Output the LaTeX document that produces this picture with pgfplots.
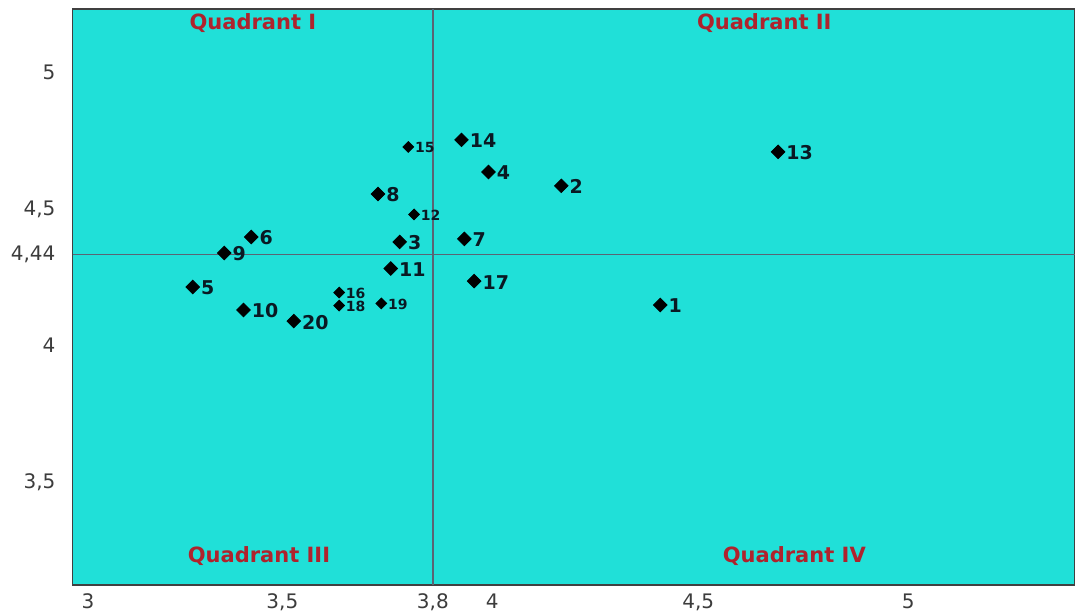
\documentclass[border=0pt]{standalone}
\usepackage{pgfplots}
\pgfplotsset{compat=1.18}
\usepackage{pgfplotstable}
\usepackage{fontspec}
\setmainfont{DejaVu Sans}
\definecolor{bgc}{RGB}{32,224,216}
\definecolor{quadred}{RGB}{175,35,45}
\definecolor{tickc}{RGB}{60,60,60}
\definecolor{linec}{RGB}{90,100,115}
\definecolor{ptc}{RGB}{10,25,35}

\pgfplotstableread{
x y lab
4.356 4.255 1
4.114 4.693 2
3.719 4.487 3
3.936 4.744 4
3.213 4.321 5
3.356 4.505 6
3.877 4.498 7
3.666 4.663 8
3.290 4.446 9
3.337 4.237 10
3.697 4.389 11
4.644 4.818 13
3.870 4.862 14
3.901 4.343 17
3.460 4.196 20
}\bigpts

\pgfplotstableread{
x y lab
3.754 4.588 12
3.740 4.836 15
3.571 4.301 16
3.571 4.253 18
3.674 4.261 19
}\smallpts

\begin{document}
\begin{tikzpicture}
\begin{axis}[
  scale only axis, width=501.25pt, height=288pt,
  xmin=2.919, xmax=5.370, ymin=3.226, ymax=5.343,
  axis background/.style={fill=bgc},
  axis line style={draw=black!75, line width=0.7pt},
  xtick={2.957,3.432,3.8,3.945,4.449,4.962},
  xticklabels={3,{3,5},{3,8},4,{4,5},5},
  ytick={3.605,4.108,4.44,4.608,5.112},
  yticklabels={{3,5},4,{4,44},{4,5},5},
  major tick length=0pt,
  tick label style={font=\fontsize{10}{12}\selectfont, text=tickc},
  xticklabel style={yshift=-1pt},
  yticklabel style={xshift=-5pt},
  clip=false,
]
\addplot[draw=linec, line width=0.8pt] coordinates {(3.8,3.226) (3.8,5.343)};
\addplot[draw=linec, line width=0.8pt] coordinates {(2.919,4.44) (5.370,4.44)};

\addplot[only marks, mark=square*, mark size=2.4pt,
  mark options={rotate=45, fill=black, draw=black},
  nodes near coords, point meta=explicit symbolic,
  nodes near coords style={anchor=west, xshift=4pt, yshift=-0.5pt, inner sep=0pt,
    font=\bfseries\fontsize{9.5}{11}\selectfont, text=ptc}]
  table[meta=lab] {\bigpts};
\addplot[only marks, mark=square*, mark size=1.9pt,
  mark options={rotate=45, fill=black, draw=black},
  nodes near coords, point meta=explicit symbolic,
  nodes near coords style={anchor=west, xshift=3.2pt, yshift=-0.5pt, inner sep=0pt,
    font=\bfseries\fontsize{7}{8}\selectfont, text=ptc}]
  table[meta=lab] {\smallpts};

\node[font=\bfseries\fontsize{10.5}{12}\selectfont, text=quadred] at (rel axis cs:0.180,0.976) {Quadrant I};
\node[font=\bfseries\fontsize{10.5}{12}\selectfont, text=quadred] at (rel axis cs:0.690,0.976) {Quadrant II};
\node[font=\bfseries\fontsize{10.5}{12}\selectfont, text=quadred] at (rel axis cs:0.186,0.050) {Quadrant III};
\node[font=\bfseries\fontsize{10.5}{12}\selectfont, text=quadred] at (rel axis cs:0.720,0.050) {Quadrant IV};
\end{axis}
\pgfresetboundingbox
\useasboundingbox ([shift={(-36.25pt,-13.5pt)}]current axis.south west) rectangle ([shift={(0pt,4.5pt)}]current axis.north east);
\end{tikzpicture}
\end{document}
